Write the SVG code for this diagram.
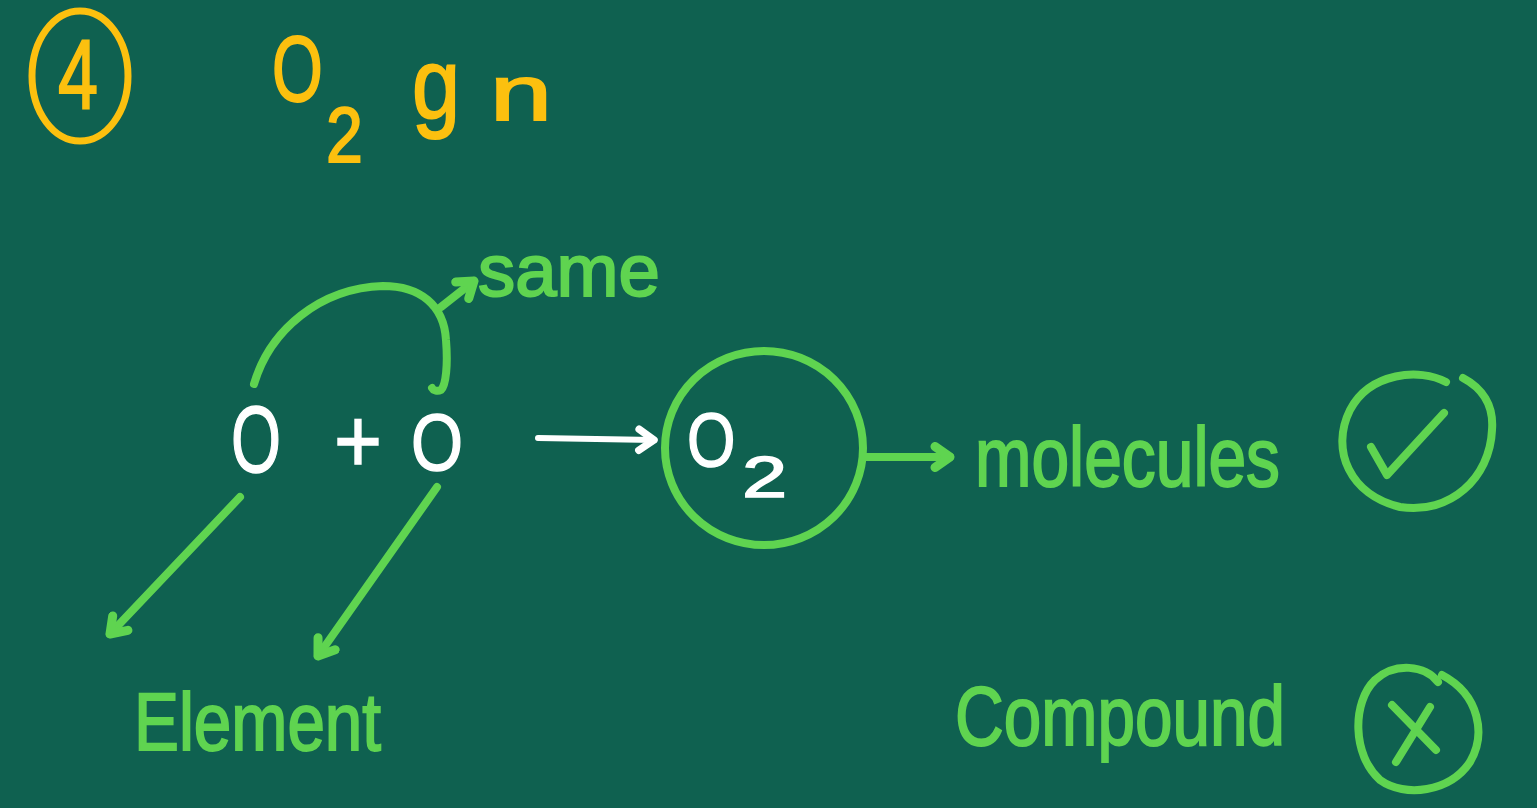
<svg xmlns="http://www.w3.org/2000/svg" width="1537" height="808" viewBox="0 0 1537 808">
<style>
.g{fill:none;stroke:#5fd450;stroke-width:8;stroke-linecap:round;stroke-linejoin:round}
.w{fill:none;stroke:#ffffff;stroke-width:6;stroke-linecap:round;stroke-linejoin:round}
.y{fill:none;stroke:#fcc00f;stroke-width:7;stroke-linecap:round}
.tg{fill:#5fd450;stroke:#5fd450;stroke-width:2;font-family:"Liberation Sans",Arial,sans-serif}
.tw{fill:#ffffff;stroke:#ffffff;stroke-width:1.5;font-family:"Liberation Sans",Arial,sans-serif}
.ty{fill:#fcc00f;stroke:#fcc00f;stroke-width:2;font-family:"Liberation Sans",Arial,sans-serif}
</style>
<defs>
<marker id="ag" markerUnits="userSpaceOnUse" markerWidth="30" markerHeight="30" refX="14" refY="10" orient="auto" viewBox="0 0 20 20">
<path d="M4,3 L14,10 L4,17" fill="none" stroke="#5fd450" stroke-width="6" stroke-linecap="round" stroke-linejoin="round"/>
</marker>
<marker id="aw" markerUnits="userSpaceOnUse" markerWidth="30" markerHeight="30" refX="14" refY="10" orient="auto" viewBox="0 0 20 20">
<path d="M4,3 L14,10 L4,17" fill="none" stroke="#ffffff" stroke-width="5" stroke-linecap="round" stroke-linejoin="round"/>
</marker>
</defs>
<rect width="1537" height="808" fill="#0f6150"/>

<g id="title">
<ellipse class="y" cx="80" cy="76" rx="48" ry="65"/>
<text class="ty" x="58" y="108" font-size="98" textLength="40" lengthAdjust="spacingAndGlyphs">4</text>
<text class="ty" transform="translate(272,101) scale(0.71,1)" x="0" y="0" font-size="92">O</text>
<text class="ty" transform="translate(326,162) scale(0.85,1)" x="0" y="0" font-size="78">2</text>
<text class="ty" x="412" y="118" font-size="100" textLength="48" lengthAdjust="spacingAndGlyphs">g</text>
<text class="ty" x="490" y="120" font-size="78" textLength="62" lengthAdjust="spacingAndGlyphs">n</text>
</g>

<g id="reactants">
<text class="tw" x="231" y="472" font-size="95" textLength="50" lengthAdjust="spacingAndGlyphs">O</text>
<text class="tw" x="334" y="472" font-size="90" textLength="48" lengthAdjust="spacingAndGlyphs">+</text>
<text class="tw" x="411" y="470" font-size="80" textLength="52" lengthAdjust="spacingAndGlyphs">O</text>
</g>

<g id="same">
<text class="tg" x="478" y="296" font-size="74" textLength="182" lengthAdjust="spacingAndGlyphs">same</text>
</g>

<g id="o2">
<ellipse class="g" cx="764" cy="448" rx="99" ry="97"/>
<text class="tw" transform="translate(687,466) scale(0.82,1)" x="0" y="0" font-size="76">O</text>
<text class="tw" transform="translate(742,497) scale(1.4,1)" x="0" y="0" font-size="58">2</text>
</g>

<g id="molecules">
<text class="tg" x="975" y="486" font-size="84" textLength="305" lengthAdjust="spacingAndGlyphs">molecules</text>
</g>

<g id="check">
<path class="g" d="M1446,382 C1420,368 1370,372 1350,410 C1330,450 1350,495 1400,507 C1450,515 1490,478 1492,430 C1494,405 1482,388 1463,378"/>
<path class="g" d="M1371,447 L1387,475 L1444,413"/>
</g>

<g id="element">
<text class="tg" x="134" y="750" font-size="82" textLength="247" lengthAdjust="spacingAndGlyphs">Element</text>
</g>

<g id="compound">
<text class="tg" x="955" y="745" font-size="84" textLength="330" lengthAdjust="spacingAndGlyphs">Compound</text>
</g>

<g id="cross">
<path class="g" d="M1438,682 C1425,665 1395,662 1375,680 C1352,702 1352,755 1380,780 C1405,798 1450,792 1470,762 C1486,735 1480,695 1442,675"/>
<path class="g" d="M1392,705 L1436,750 M1430,707 L1396,762"/>
</g>

<g id="connectors">
<path class="g" d="M254,384 C270,330 320,288 383,286 C420,286 444,305 446,340 C448,365 446,385 441,390 C437,392 433,390 432,388"/>
<path class="g" d="M441,307 L474,281" marker-end="url(#ag)"/>
<path class="w" d="M538,438 L654,440" marker-end="url(#aw)"/>
<path class="g" d="M863,457 L950,457" marker-end="url(#ag)"/>
<path class="g" d="M240,497 L110,634" marker-end="url(#ag)"/>
<path class="g" d="M437,487 L318,656" marker-end="url(#ag)"/>
</g>
</svg>
